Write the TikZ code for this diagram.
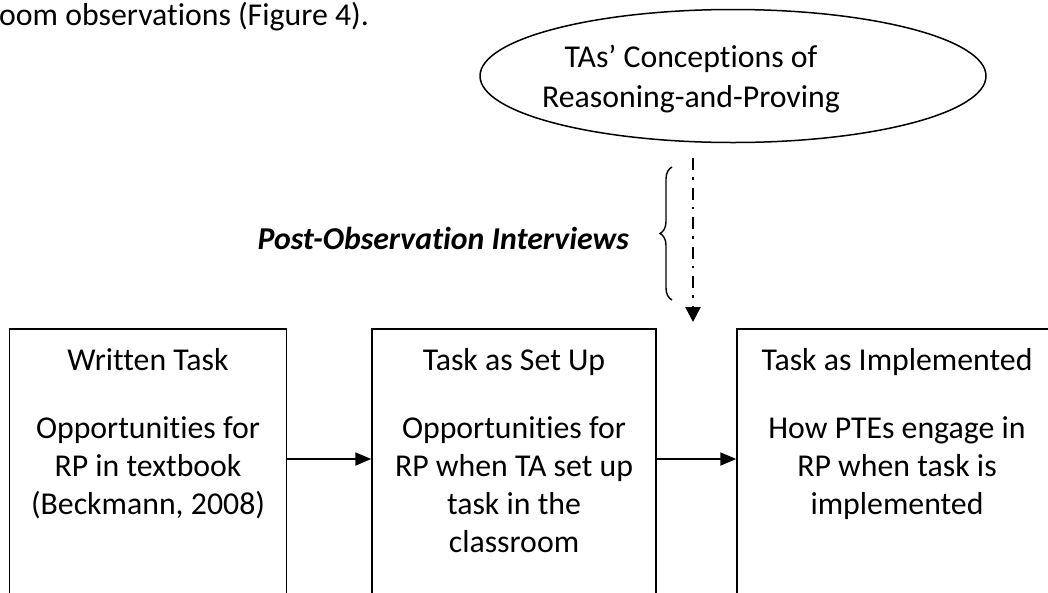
\documentclass[tikz,border=0pt]{standalone}
\usepackage{fontspec}
\setmainfont{Carlito}[Ligatures=NoCommon]
\usetikzlibrary{arrows.meta,decorations.pathreplacing,shapes.geometric}
\begin{document}
\begin{tikzpicture}[x=1pt,y=-1pt,
  every node/.style={font=\fontsize{31.8}{38}\selectfont},
  taskbox/.style={draw, line width=1.5pt, rectangle, anchor=north, minimum height=330pt, inner sep=0pt},
  boxtext/.style={anchor=base, inner sep=0pt},
  conn/.style={line width=2pt, -{Triangle[length=16pt,width=13pt]}},
  dashdot/.style={line width=2.6pt, dash pattern=on 12pt off 7pt on 2.5pt off 8pt, -{Triangle[length=15pt,width=15pt]}}
]
\useasboundingbox (0,0) rectangle (1048,592);
% partial text line at top
\node[anchor=base west, inner sep=0pt] (topline) at (-1,25) {oom observations (Figure 4).};
% ellipse
\node[draw, ellipse, line width=1.5pt, minimum width=506pt, minimum height=133pt, inner sep=0pt] (conc) at (733,76) {};
\node[boxtext] (conct) at (691,67) {\parbox[t]{420pt}{\centering TAs’ Conceptions of\\[2pt]Reasoning-and-Proving}};
% boxes
\node[taskbox, minimum width=277pt] (b1) at (148,328) {};
\node[taskbox, minimum width=284pt] (b2) at (514,328) {};
\node[taskbox, minimum width=320pt] (b3) at (897,328) {};
\node[boxtext] (b1h) at (148,370) {Written Task};
\node[boxtext] (b2h) at (514,370) {Task as Set Up};
\node[boxtext] (b3h) at (897,370) {Task as Implemented};
\node[boxtext] (b1t) at (148,438) {\parbox[t]{276pt}{\centering Opportunities for\\RP in textbook\\(Beckmann, 2008)}};
\node[boxtext] (b2t) at (514,438) {\parbox[t]{282pt}{\centering Opportunities for\\RP when TA set up\\task in the\\classroom}};
\node[boxtext] (b3t) at (897,438) {\parbox[t]{310pt}{\centering How PTEs engage in\\RP when task is\\implemented}};
% horizontal arrows
\coordinate (ay) at (0,459);
\draw[conn] (b1.east |- ay) -- (b2.west |- ay);
\draw[conn] (b2.east |- ay) -- (b3.west |- ay);
% dash-dot arrow
\coordinate (ds) at (693,158);
\coordinate (de) at (693,322);
\draw[dashdot] (ds) -- (de);
% brace and label
\coordinate (bb) at (672,300);
\coordinate (bt) at (672,167);
\draw[line width=1.4pt, decorate, decoration={brace, amplitude=12pt}] (bb) -- (bt);
\node[anchor=base east, inner sep=0pt, font=\fontsize{31.8}{38}\selectfont\bfseries\itshape] (poi) at (629,249) {Post-Observation Interviews};
\end{tikzpicture}
\end{document}
